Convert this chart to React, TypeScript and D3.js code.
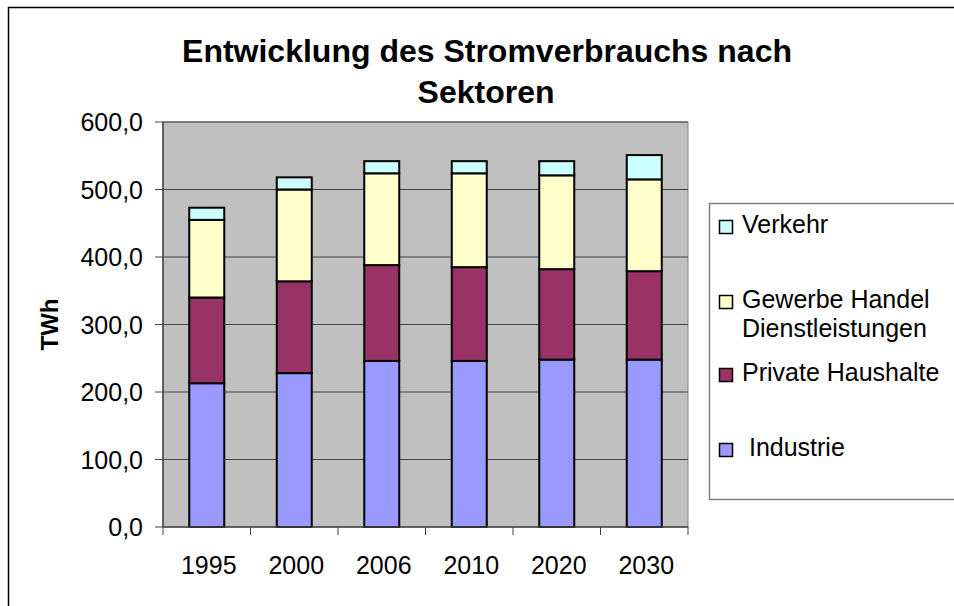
import React from "react";
import * as d3 from "d3";

// Daten (TWh)
const years = ["1995", "2000", "2006", "2010", "2020", "2030"];
const industrie = [213, 228, 246, 246, 248, 248];
const privateHaushalte = [127, 136, 142, 139, 134, 131];
const gewerbe = [115, 136, 136, 139, 139, 136];
const verkehr = [18, 18, 18, 18, 21, 36];
const yTicks = [0, 100, 200, 300, 400, 500, 600];

const seriesKeys = ["industrie", "private", "gewerbe", "verkehr"];
const colors = ["#9999ff", "#993366", "#ffffcc", "#ccffff"];

const width = 954;
const height = 606;
const plot = { left: 163, right: 688, top: 122, bottom: 527 };
const font = "'Liberation Sans', Arial, sans-serif";

const de = d3.formatLocale({ decimal: ",", thousands: ".", grouping: [3], currency: ["", " €"] });
const fmt = de.format(".1f");

const App = () => {
  const rows = years.map((y, i) => ({
    year: y,
    industrie: industrie[i],
    private: privateHaushalte[i],
    gewerbe: gewerbe[i],
    verkehr: verkehr[i],
  }));
  const stacked = d3.stack<any>().keys(seriesKeys)(rows);

  const x = d3
    .scaleBand()
    .domain(years)
    .range([plot.left, plot.right])
    .paddingInner(0.6)
    .paddingOuter(0.3);
  const y = d3.scaleLinear().domain([0, 600]).range([plot.bottom, plot.top]);
  const step = x.step();

  // Legende (von oben nach unten)
  const legend = [
    { label: ["Verkehr"], color: colors[3], sy: 220, ty: 233 },
    { label: ["Gewerbe Handel", "Dienstleistungen"], color: colors[2], sy: 295, ty: 308 },
    { label: ["Private Haushalte"], color: colors[1], sy: 368, ty: 381 },
    { label: [" Industrie"], color: colors[0], sy: 443, ty: 456 },
  ];

  return (
    <svg
      width={width}
      height={height}
      style={{ position: "absolute", left: 0, top: 0, background: "#fff" }}
      fontFamily={font}
    >
      {/* äußerer Rahmen */}
      <rect x={8.5} y={7.5} width={width + 10} height={height + 10} fill="none" stroke="#000" strokeWidth={1.5} />

      {/* Titel */}
      <text x={487} y={62} textAnchor="middle" fontWeight="bold" fontSize={32}>
        Entwicklung des Stromverbrauchs nach
      </text>
      <text x={486} y={103} textAnchor="middle" fontWeight="bold" fontSize={32}>
        Sektoren
      </text>

      {/* Plotfläche */}
      <rect
        x={plot.left}
        y={plot.top}
        width={plot.right - plot.left}
        height={plot.bottom - plot.top}
        fill="#c0c0c0"
        stroke="#808080"
        strokeWidth={1}
      />
      {yTicks.slice(1).map((t) => (
        <line key={t} x1={plot.left} x2={plot.right} y1={y(t)} y2={y(t)} stroke="#444" strokeWidth={1} />
      ))}

      {/* Balken */}
      {stacked.map((s, si) => (
        <g key={s.key} fill={colors[si]}>
          {s.map((d, i) => (
            <rect
              key={i}
              x={x(years[i])}
              y={y(d[1])}
              width={x.bandwidth()}
              height={y(d[0]) - y(d[1])}
              stroke="#000"
              strokeWidth={2}
            />
          ))}
        </g>
      ))}

      {/* Y-Achse */}
      <line x1={plot.left} x2={plot.left} y1={plot.top} y2={plot.bottom} stroke="#444" strokeWidth={1.5} />
      {yTicks.map((t) => (
        <g key={t}>
          <line x1={plot.left - 8} x2={plot.left} y1={y(t)} y2={y(t)} stroke="#444" strokeWidth={1} />
          <text x={143} y={y(t) + 9} textAnchor="end" fontSize={25}>
            {fmt(t)}
          </text>
        </g>
      ))}
      <text
        transform={`translate(58,${(plot.top + plot.bottom) / 2}) rotate(-90)`}
        textAnchor="middle"
        fontWeight="bold"
        fontSize={24}
      >
        TWh
      </text>

      {/* X-Achse */}
      <line x1={plot.left} x2={plot.right} y1={plot.bottom} y2={plot.bottom} stroke="#444" strokeWidth={1.5} />
      {d3.range(years.length + 1).map((i) => (
        <line
          key={i}
          x1={plot.left + i * step}
          x2={plot.left + i * step}
          y1={plot.bottom}
          y2={plot.bottom + 8}
          stroke="#444"
          strokeWidth={1}
        />
      ))}
      {years.map((yr) => (
        <text key={yr} x={(x(yr) as number) + x.bandwidth() / 2 + 2} y={574} textAnchor="middle" fontSize={25}>
          {yr}
        </text>
      ))}

      {/* Legende */}
      <rect x={709.5} y={203.5} width={260} height={296} fill="#fff" stroke="#808080" strokeWidth={1.5} />
      {legend.map((l) => (
        <g key={l.label[0]}>
          <rect x={719.5} y={l.sy + 0.5} width={13} height={13} fill={l.color} stroke="#000" strokeWidth={1.5} />
          {l.label.map((t, j) => (
            <text key={j} x={742} y={l.ty + j * 29} fontSize={25} style={{ whiteSpace: "pre" }}>
              {t}
            </text>
          ))}
        </g>
      ))}
    </svg>
  );
};

export default App;
